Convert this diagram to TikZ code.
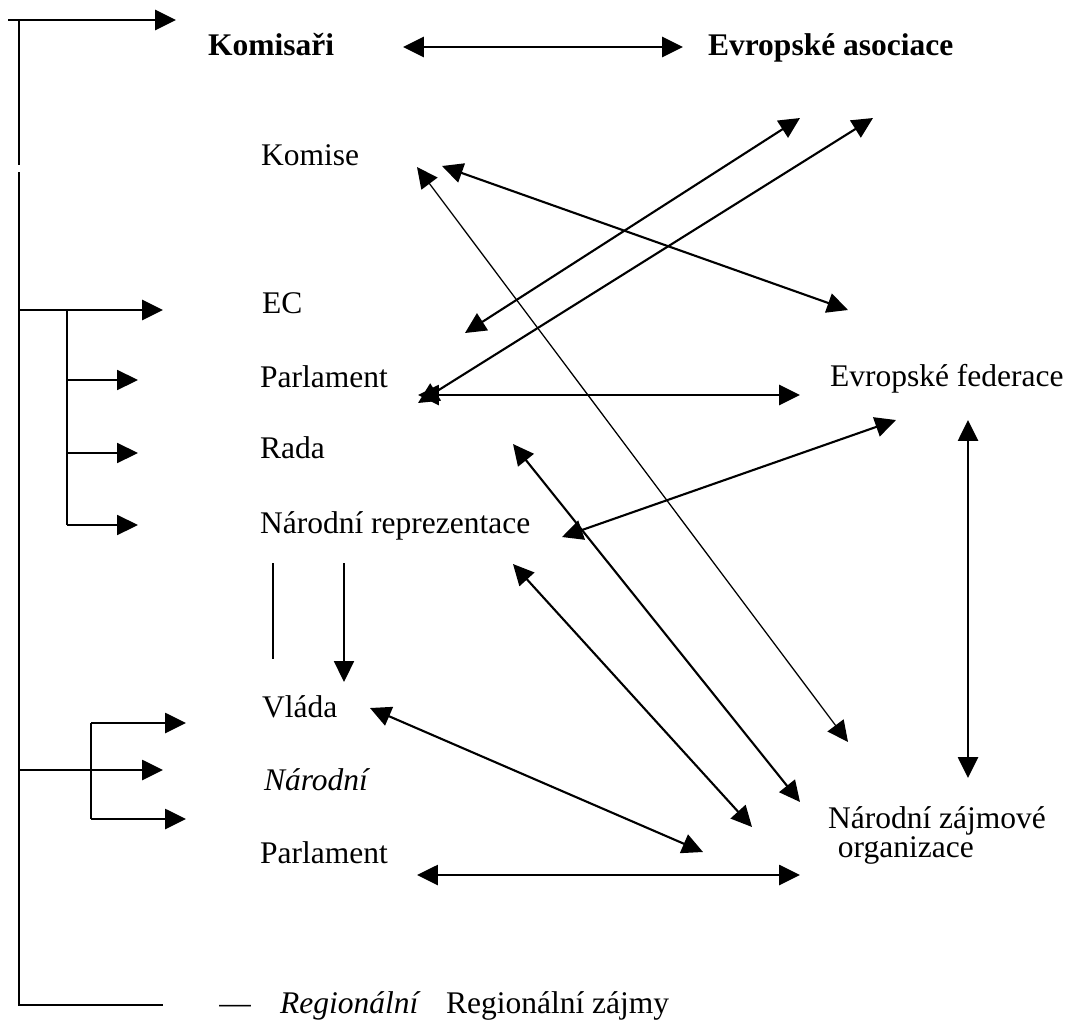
\documentclass[tikz,border=0pt]{standalone}
\usepackage{fontspec}
\setmainfont{Liberation Serif}
\usetikzlibrary{arrows.meta}

\begin{document}
\begin{tikzpicture}[x=0.025cm,y=-0.025cm,>={Triangle[width=0.5cm,length=0.52cm]},line width=1.5pt]
\tikzstyle{every node}=[font=\fontsize{22.4}{27}\selectfont,inner sep=0pt,anchor=base west]
\tikzstyle{link}=[<->,line width=1.5pt]
\tikzstyle{thinlink}=[<->,line width=0.9pt]
\useasboundingbox (0,0) rectangle (1070,1019);

\node (kom) at (207,55) {\textbf{Komisaři}};
\node (evas) at (707,55) {\textbf{Evropské asociace}};

\node (komise) at (260,165) {Komise};
\node (ec) at (261,313) {EC};
\node (parl1) at (259,387) {Parlament};
\node (rada) at (259,458) {Rada};
\node (narrep) at (259,533) {Národní reprezentace};
\node (vlada) at (261,717) {Vláda};
\node (narodni) at (263,790) {\textit{Národní}};
\node (parl2) at (259,863) {Parlament};

\node (evfed) at (829,386) {Evropské federace};
\node[align=left,font=\fontsize{22.4}{20.6}\selectfont] (nzo) at (827,857) {Národní zájmové\\\hspace*{7pt}organizace};

\node[anchor=base] (dash) at (235,1013) {—};
\node (reg1) at (279,1013) {\textit{Regionální}};
\node (reg2) at (445,1013) {Regionální zájmy};

% ends of the links
\coordinate (kom-r) at (403,47);
\coordinate (evas-l) at (683,47);
\coordinate (komise-a) at (417,167);
\coordinate (komise-b) at (442,166);
\coordinate (ec-r) at (465,333);
\coordinate (parl-r) at (418,403);
\coordinate (parl-h) at (418,395);
\coordinate (rada-r) at (513,444);
\coordinate (narrep-r) at (562,537);
\coordinate (narrep-d) at (513,564);
\coordinate (vlada-r) at (370,708);
\coordinate (parl2-r) at (417,875);
\coordinate (evas-a) at (800,118);
\coordinate (evas-b) at (873,118);
\coordinate (evfed-a) at (848,310);
\coordinate (evfed-l) at (800,395);
\coordinate (evfed-b) at (896,420);
\coordinate (evfed-d) at (968,420);
\coordinate (nzo-u) at (968,778);
\coordinate (nzo-a) at (848,742);
\coordinate (nzo-b) at (800,802);
\coordinate (nzo-c) at (752,827);
\coordinate (nzo-d) at (703,852);
\coordinate (nzo-l) at (800,875);
\coordinate (down-a) at (273,563);
\coordinate (down-b) at (273,659);
\coordinate (down-c) at (344,563);
\coordinate (down-d) at (344,682);

\path[link] (kom-r) edge (evas-l);
\path[thinlink] (komise-a) edge (nzo-a);
\path[link] (komise-b) edge (evfed-a);
\path[link] (ec-r) edge (evas-a);
\path[link] (parl-r) edge (evas-b);
\path[link] (parl-h) edge (evfed-l);
\path[link] (narrep-r) edge (evfed-b);
\path[link] (rada-r) edge (nzo-b);
\path[link] (narrep-d) edge (nzo-c);
\path[link] (vlada-r) edge (nzo-d);
\path[link] (parl2-r) edge (nzo-l);
\path[link] (evfed-d) edge (nzo-u);

\draw[line width=1pt] (down-a) -- (down-b);
\draw[->,line width=1pt] (down-c) -- (down-d);

% frame on the left
\coordinate (f00) at (8,20);
\coordinate (f0) at (19,20);
\coordinate (f1) at (19,165);
\coordinate (f2) at (19,172);
\coordinate (f3) at (19,1005);
\coordinate (fec) at (19,310);
\coordinate (fnat) at (19,770);
\coordinate (s1) at (67,310);
\coordinate (s2) at (67,525);
\coordinate (s3) at (91,723);
\coordinate (s4) at (91,819);
\coordinate (t0) at (176,20);
\coordinate (tec) at (163,310);
\coordinate (tparl) at (138,380);
\coordinate (trada) at (138,453);
\coordinate (tnar) at (138,525);
\coordinate (tvl) at (186,723);
\coordinate (tnat) at (163,770);
\coordinate (tparl2) at (186,819);
\coordinate (treg) at (163,1005);

\draw[->] (f00) -- (t0);
\draw (f0) -- (f1);
\draw (f2) -- (f3) -- (treg);
\draw[->] (fec) -- (tec);
\draw (s1) -- (s2);
\draw[->,line width=1pt] (s1 |- tparl) -- (tparl);
\draw[->,line width=1pt] (s1 |- trada) -- (trada);
\draw[->,line width=1pt] (s2) -- (tnar);
\draw[->] (fnat) -- (tnat);
\draw (s3) -- (s4);
\draw[->] (s3) -- (tvl);
\draw[->] (s4) -- (tparl2);

\end{tikzpicture}
\end{document}
